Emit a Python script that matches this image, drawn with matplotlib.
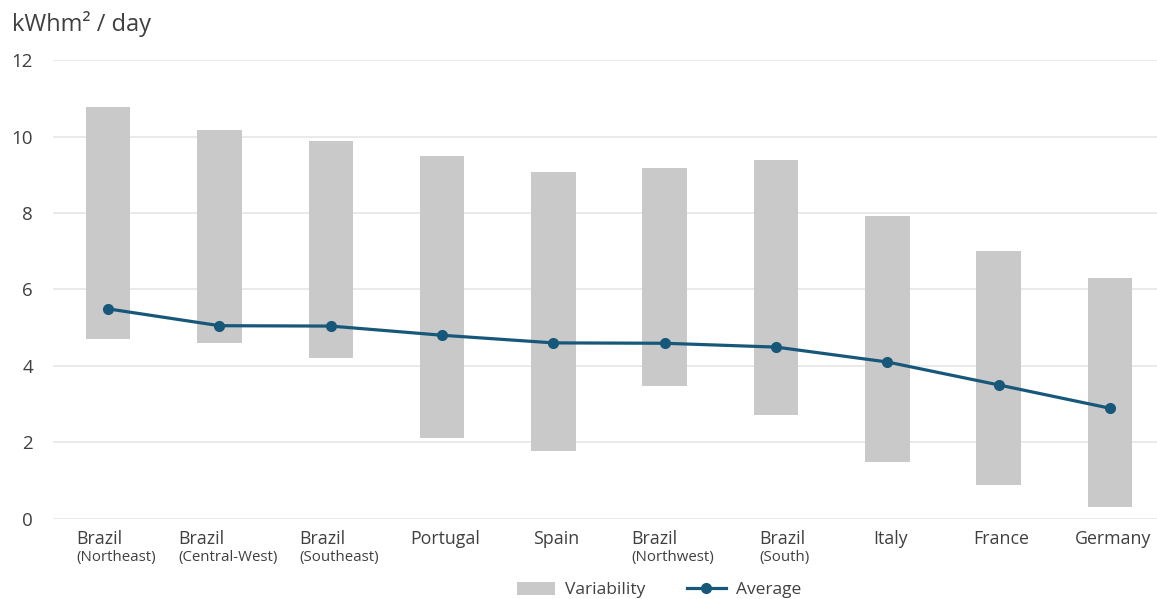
import matplotlib
matplotlib.use("Agg")
import matplotlib.pyplot as plt
import matplotlib.transforms as mtransforms
from matplotlib.patches import Patch
from matplotlib.lines import Line2D

# data
countries = ["Brazil", "Brazil", "Brazil", "Portugal", "Spain",
             "Brazil", "Brazil", "Italy", "France", "Germany"]
regions = ["(Northeast)", "(Central-West)", "(Southeast)", "", "",
           "(Northwest)", "(South)", "", "", ""]
var_low = [4.71, 4.60, 4.20, 2.10, 1.78, 3.48, 2.70, 1.49, 0.89, 0.30]
var_high = [10.78, 10.17, 9.88, 9.48, 9.08, 9.18, 9.38, 7.91, 7.00, 6.30]
average = [5.49, 5.05, 5.04, 4.80, 4.60, 4.59, 4.49, 4.10, 3.50, 2.89]
y_ticks = [0, 2, 4, 6, 8, 10, 12]

BAR_COLOR = "#C9C9C9"
LINE_COLOR = "#17587A"
TEXT_COLOR = "#404040"
GRID_COLOR = "#E4E4E4"

plt.rcParams["font.family"] = ["Open Sans", "DejaVu Sans"]

fig = plt.figure(figsize=(11.57, 5.99), dpi=100)
ax = fig.add_axes([0.0454, 0.1342, 0.962, 0.7653])

x = list(range(len(countries)))
heights = [h - l for l, h in zip(var_low, var_high)]
ax.bar(x, heights, bottom=var_low, width=0.4, color=BAR_COLOR, zorder=2)
ax.plot(x, average, color=LINE_COLOR, lw=2.3, marker="o", markersize=7,
        solid_joinstyle="round", zorder=3)

ax.set_xlim(-0.5, len(countries) - 0.5)
ax.set_ylim(0, 12)
ax.set_yticks(y_ticks)
ax.yaxis.grid(True, color=GRID_COLOR, lw=1.1, zorder=0)
ax.set_axisbelow(True)
for s in ax.spines.values():
    s.set_visible(False)
ax.tick_params(axis="y", length=0, pad=14, labelsize=13.5, labelcolor=TEXT_COLOR)
ax.set_xticks([])

# category labels: country name with optional region underneath
trans = mtransforms.blended_transform_factory(ax.transData, ax.transAxes)
fig.canvas.draw()
renderer = fig.canvas.get_renderer()
for i, (name, reg) in enumerate(zip(countries, regions)):
    if reg:
        sub = ax.annotate(reg, (i, 0), xycoords=trans, xytext=(6, -27.7),
                          textcoords="offset points", ha="center", va="center",
                          fontsize=10.8, color=TEXT_COLOR)
        bb = sub.get_window_extent(renderer)
        x0, _ = ax.transData.inverted().transform((bb.x0, 0))
        ax.annotate(name, (x0, 0), xycoords=trans, xytext=(0, -15),
                    textcoords="offset points", ha="left", va="center",
                    fontsize=12.8, color=TEXT_COLOR)
    else:
        ax.annotate(name, (i, 0), xycoords=trans, xytext=(2, -15),
                    textcoords="offset points", ha="center", va="center",
                    fontsize=12.8, color=TEXT_COLOR)

fig.text(12 / 1157, 1 - 24 / 599, "kWhm² / day", fontsize=17,
         color=TEXT_COLOR, va="center", ha="left")

handles = [Patch(facecolor=BAR_COLOR, edgecolor="none"),
           Line2D([], [], color=LINE_COLOR, lw=2.3, marker="o", markersize=7)]
fig.legend(handles, ["Variability", "Average"], loc="center",
           bbox_to_anchor=(659 / 1157, 9 / 599), ncol=2, frameon=False,
           fontsize=12.5, labelcolor=TEXT_COLOR, handlelength=2.2,
           handleheight=0.8, columnspacing=2.4, handletextpad=0.6)

fig.savefig("out.png", dpi=100)
